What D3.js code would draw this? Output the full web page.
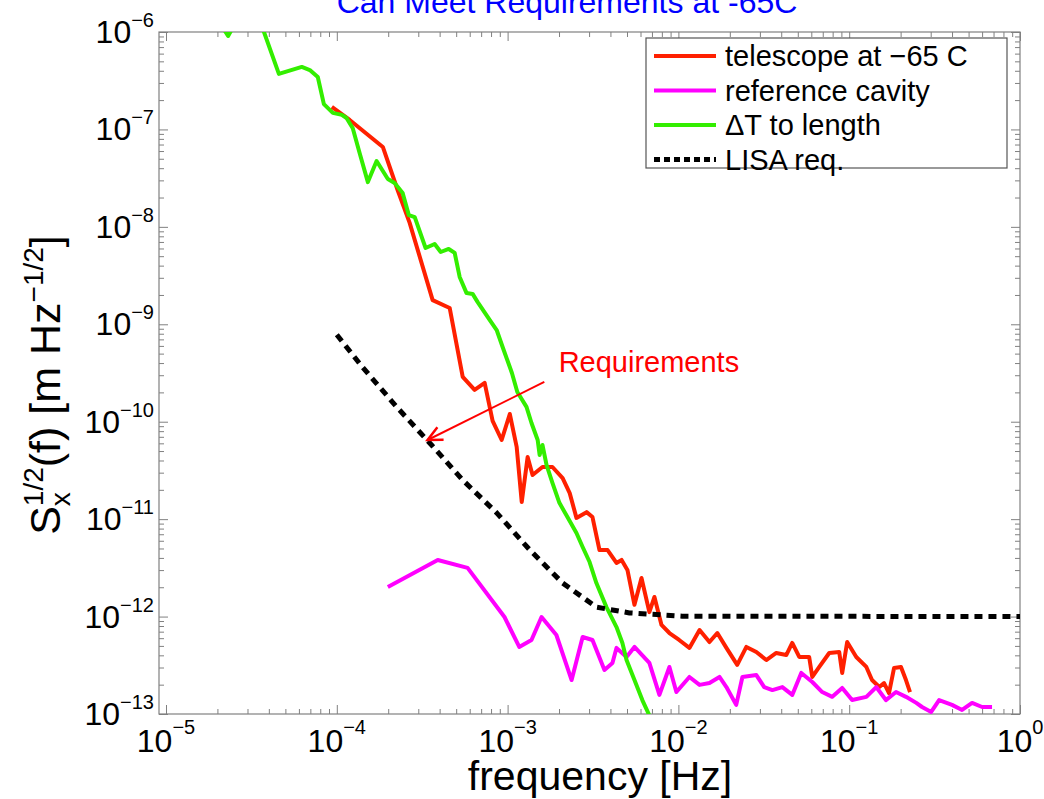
<!DOCTYPE html>
<html lang="en">
<head>
<meta charset="utf-8">
<script src="https://d3js.org/d3.v7.min.js"></script>
<title>Can Meet Requirements at -65C</title>
<style>
body { margin: 0; background: #ffffff; font-family: "Liberation Sans", Arial, sans-serif; }
.tick-lbl { font-size: 32px; fill: #000; }
</style>
</head>
<body>
<script>
// telescope at -65 C (red)
var telescopeF = [9.35e-5, 1.19e-4, 1.86e-4, 2.27e-4, 2.67e-4, 3.64e-4, 4.58e-4, 5.46e-4, 6.41e-4, 7.34e-4,
  8.17e-4, 9.23e-4, 1.03e-3, 1.13e-3, 1.21e-3, 1.31e-3, 1.40e-3, 1.60e-3, 1.83e-3, 2.10e-3,
  2.31e-3, 2.53e-3, 2.90e-3, 3.14e-3, 3.45e-3, 3.85e-3, 4.34e-3, 4.65e-3, 5.03e-3, 5.53e-3,
  6.08e-3, 6.76e-3, 7.24e-3, 7.96e-3, 8.86e-3, 1.01e-2, 1.16e-2, 1.33e-2, 1.52e-2, 1.69e-2,
  1.91e-2, 2.21e-2, 2.50e-2, 2.86e-2, 3.27e-2, 3.74e-2, 4.28e-2, 4.64e-2, 5.10e-2, 5.83e-2,
  6.08e-2, 6.68e-2, 7.64e-2, 8.74e-2, 9.10e-2, 9.73e-2, 0.110, 0.126, 0.136, 0.150,
  0.160, 0.171, 0.183, 0.201, 0.215, 0.227];
var telescopeS = [1.70e-7, 1.25e-7, 6.61e-8, 2.39e-8, 1.10e-8, 1.77e-9, 1.47e-9, 2.88e-10, 2.12e-10, 2.50e-10,
  1.02e-10, 6.49e-11, 1.20e-10, 5.51e-11, 1.50e-11, 4.35e-11, 2.84e-11, 3.43e-11, 3.43e-11, 2.64e-11,
  1.85e-11, 1.03e-11, 1.18e-11, 1.05e-11, 4.82e-12, 4.82e-12, 3.55e-12, 3.81e-12, 3.01e-12, 1.32e-12,
  2.49e-12, 1.11e-12, 1.59e-12, 8.20e-13, 6.78e-13, 5.75e-13, 4.77e-13, 7.28e-13, 5.48e-13, 6.78e-13,
  4.77e-13, 3.19e-13, 4.88e-13, 4.33e-13, 3.58e-13, 4.23e-13, 4.03e-13, 5.36e-13, 3.85e-13, 3.85e-13,
  2.40e-13, 3.04e-13, 4.23e-13, 4.33e-13, 2.64e-13, 5.48e-13, 3.85e-13, 3.04e-13, 2.23e-13, 1.89e-13,
  2.08e-13, 1.64e-13, 2.96e-13, 3.04e-13, 2.23e-13, 1.68e-13];

// reference cavity (magenta)
var cavityF = [1.99e-4, 3.90e-4, 5.83e-4, 9.59e-4, 1.17e-3, 1.38e-3, 1.58e-3, 1.93e-3, 2.37e-3, 2.75e-3,
  3.14e-3, 3.69e-3, 4.11e-3, 4.34e-3, 4.97e-3, 5.53e-3, 6.76e-3, 7.74e-3, 8.86e-3, 9.73e-3,
  1.16e-2, 1.33e-2, 1.52e-2, 1.74e-2, 1.91e-2, 2.18e-2, 2.37e-2, 2.86e-2, 3.18e-2, 3.55e-2,
  4.06e-2, 4.64e-2, 5.24e-2, 6.08e-2, 6.95e-2, 7.96e-2, 9.10e-2, 0.104, 0.126, 0.144,
  0.164, 0.188, 0.215, 0.247, 0.267, 0.302, 0.336, 0.400, 0.458, 0.524, 0.600, 0.686];
var cavityS = [2.01e-12, 3.81e-12, 3.16e-12, 9.9e-13, 4.88e-13, 5.75e-13, 9.9e-13, 6.47e-13, 2.23e-13, 6.17e-13,
  5.75e-13, 2.83e-13, 3.34e-13, 4.77e-13, 3.85e-13, 4.88e-13, 3.34e-13, 1.57e-13, 3.04e-13, 1.68e-13,
  2.40e-13, 1.99e-13, 2.08e-13, 2.40e-13, 1.89e-13, 1.24e-13, 2.40e-13, 2.51e-13, 1.89e-13, 1.76e-13,
  1.89e-13, 1.57e-13, 2.64e-13, 2.13e-13, 1.68e-13, 1.50e-13, 1.85e-13, 1.39e-13, 1.50e-13, 1.89e-13,
  1.39e-13, 1.68e-13, 1.50e-13, 1.30e-13, 1.18e-13, 1.05e-13, 1.39e-13, 1.24e-13, 1.10e-13, 1.30e-13, 1.18e-13, 1.18e-13];

// delta T to length (green)
var deltaTF = [1.93e-5, 2.31e-5, 2.71e-5, 3.45e-5, 4.58e-5, 6.24e-5, 6.95e-5, 7.74e-5, 8.4e-5, 9.48e-5,
  1.07e-4, 1.14e-4, 1.24e-4, 1.36e-4, 1.52e-4, 1.71e-4, 1.99e-4, 2.18e-4, 2.43e-4, 2.64e-4,
  2.86e-4, 3.31e-4, 3.74e-4, 4.06e-4, 4.52e-4, 4.90e-4, 5.24e-4, 5.75e-4, 6.24e-4, 6.68e-4,
  7.85e-4, 8.63e-4, 9.35e-4, 1.06e-3, 1.14e-3, 1.29e-3, 1.38e-3, 1.50e-3, 1.54e-3, 1.60e-3,
  1.69e-3, 1.83e-3, 2.01e-3, 2.24e-3, 2.53e-3, 2.75e-3, 3.02e-3, 3.31e-3, 3.79e-3, 4.34e-3,
  4.70e-3, 4.97e-3, 5.53e-3, 6.15e-3, 6.95e-3];
var deltaTS = [1.50e-6, 9.1e-7, 1.50e-6, 1.50e-6, 3.71e-7, 4.38e-7, 4.07e-7, 3.45e-7, 1.82e-7, 1.48e-7,
  1.41e-7, 1.31e-7, 1.03e-7, 5.73e-8, 2.88e-8, 4.74e-8, 3.10e-8, 2.82e-8, 2.23e-8, 1.32e-8,
  1.26e-8, 6.07e-9, 6.67e-9, 5.52e-9, 5.93e-9, 5.40e-9, 3.06e-9, 2.09e-9, 2.05e-9, 1.69e-9,
  1.11e-9, 8.73e-10, 5.85e-10, 3.16e-10, 2.02e-10, 1.42e-10, 9.7e-11, 6.49e-11, 4.55e-11, 5.77e-11,
  3.60e-11, 2.35e-11, 1.47e-11, 1.05e-11, 7.21e-12, 5.18e-12, 3.63e-12, 2.21e-12, 1.25e-12, 7.81e-13,
  5.36e-13, 3.58e-13, 2.23e-13, 1.39e-13, 8.7e-14];

// LISA requirement (black dotted)
var lisaF = [1.0e-4, 1.42e-4, 2.24e-4, 3.50e-4, 5.46e-4, 8.63e-4, 1.35e-3, 2.10e-3, 3.31e-3, 5.17e-3, 1.05e-2, 1.0];
var lisaS = [7.8e-10, 3.6e-10, 1.42e-10, 6.05e-11, 2.52e-11, 1.16e-11, 4.82e-12, 2.21e-12, 1.25e-12, 1.09e-12, 1.01e-12, 1.0e-12];

var xTickExp = [-5, -4, -3, -2, -1, 0];
var yTickExp = [-13, -12, -11, -10, -9, -8, -7, -6];

var legendLabels = ["telescope at \u221265 C", "reference cavity", "\u0394T to length", "LISA req."];
var annotation = { text: "Requirements", textF: 1.99e-3, textS: 3.24e-10,
  fromF: 1.64e-3, fromS: 2.56e-10, toF: 3.40e-4, toS: 6.49e-11 };

var width = 1044, height = 799;
var plotLeft = 159, plotRight = 1020, plotTop = 32, plotBottom = 714;
var axisGray = "#808080";

var svg = d3.select("body").append("svg")
  .attr("width", width)
  .attr("height", height);

var x = d3.scaleLog().domain([Math.pow(10, -5.041), 1]).range([plotLeft, plotRight]);
var y = d3.scaleLog().domain([1e-13, 1e-6]).range([plotBottom, plotTop]);

// title (partly cut off at the top)
svg.append("text")
  .attr("x", 567).attr("y", 13)
  .attr("text-anchor", "middle")
  .style("font-size", "32px")
  .style("fill", "#0000ff")
  .text("Can Meet Requirements at -65C");

svg.append("defs").append("clipPath").attr("id", "plotclip")
  .append("rect")
  .attr("x", plotLeft).attr("y", plotTop)
  .attr("width", plotRight - plotLeft).attr("height", plotBottom - plotTop);

// ticks, inside on all four sides
var xAll = x.ticks();
var yAll = y.ticks();
function isMajor(v) { return Math.abs(Math.log10(v) - Math.round(Math.log10(v))) < 1e-6; }
var xMinor = xAll.filter(function(v) { return !isMajor(v); });
var xMajor = xAll.filter(isMajor);
var yMinor = yAll.filter(function(v) { return !isMajor(v); });
var yMajor = yAll.filter(isMajor);

function drawAxis(axisFn, scale, vals, size, transform) {
  var g = svg.append("g")
    .attr("transform", transform)
    .call(axisFn(scale).tickValues(vals).tickSizeInner(-size).tickSizeOuter(0).tickFormat(""));
  g.select(".domain").remove();
  g.selectAll("line").attr("stroke", axisGray);
}
drawAxis(d3.axisBottom, x, xMinor, 5, "translate(0," + plotBottom + ")");
drawAxis(d3.axisBottom, x, xMajor, 9, "translate(0," + plotBottom + ")");
drawAxis(d3.axisTop, x, xMinor, 5, "translate(0," + plotTop + ")");
drawAxis(d3.axisTop, x, xMajor, 9, "translate(0," + plotTop + ")");
drawAxis(d3.axisLeft, y, yMinor, 5, "translate(" + plotLeft + ",0)");
drawAxis(d3.axisLeft, y, yMajor, 9, "translate(" + plotLeft + ",0)");
drawAxis(d3.axisRight, y, yMinor, 5, "translate(" + plotRight + ",0)");
drawAxis(d3.axisRight, y, yMajor, 9, "translate(" + plotRight + ",0)");

svg.append("rect")
  .attr("x", plotLeft).attr("y", plotTop)
  .attr("width", plotRight - plotLeft).attr("height", plotBottom - plotTop)
  .attr("fill", "none")
  .attr("stroke", axisGray)
  .attr("stroke-width", 1.2);

// tick labels as 10^n
xTickExp.forEach(function(e) {
  var t = svg.append("text")
    .attr("class", "tick-lbl")
    .attr("x", x(Math.pow(10, e)))
    .attr("y", plotBottom + 38)
    .attr("text-anchor", "middle");
  t.append("tspan").text("10");
  t.append("tspan").attr("dy", -18).style("font-size", "20px").text(String(e).replace("-", "\u2212"));
});
yTickExp.forEach(function(e) {
  var t = svg.append("text")
    .attr("class", "tick-lbl")
    .attr("x", 154)
    .attr("y", y(Math.pow(10, e)) + 11)
    .attr("text-anchor", "end");
  t.append("tspan").text("10");
  t.append("tspan").attr("dy", -16).style("font-size", "20px").text(String(e).replace("-", "\u2212"));
});

// axis labels
svg.append("text")
  .attr("x", 600).attr("y", 790)
  .attr("text-anchor", "middle")
  .style("font-size", "41px")
  .text("frequency [Hz]");

function measure(str, size) {
  var t = svg.append("text").style("font-size", size + "px").text(str);
  var w = t.node().getComputedTextLength();
  t.remove();
  return w;
}
var big = 43, small = 28;
var wHalf = measure("1/2", small), wX = measure("x", small);
var yl = svg.append("text")
  .attr("transform", "translate(60,385) rotate(-90)")
  .attr("text-anchor", "middle")
  .style("font-size", big + "px");
yl.append("tspan").text("S");
yl.append("tspan").attr("dy", -17).style("font-size", small + "px").text("1/2");
yl.append("tspan").attr("dx", -wHalf).attr("dy", 27).style("font-size", small + "px").text("x");
yl.append("tspan").attr("dx", wHalf - wX).attr("dy", -10).text("(f) [m Hz");
yl.append("tspan").attr("dy", -17).style("font-size", small + "px").text("\u22121/2");
yl.append("tspan").attr("dy", 17).text("]");

// series
var line = d3.line()
  .x(function(d) { return x(d[0]); })
  .y(function(d) { return y(d[1]); });

var plot = svg.append("g").attr("clip-path", "url(#plotclip)");
var series = [
  { f: telescopeF, s: telescopeS, color: "#ff2000", w: 4, dash: null },
  { f: cavityF, s: cavityS, color: "#ff00ff", w: 4, dash: null },
  { f: deltaTF, s: deltaTS, color: "#33ee00", w: 4, dash: null },
  { f: lisaF, s: lisaS, color: "#000000", w: 5, dash: "8,6" }
];
series.forEach(function(sr) {
  plot.append("path")
    .datum(d3.zip(sr.f, sr.s))
    .attr("d", line)
    .attr("fill", "none")
    .attr("stroke", sr.color)
    .attr("stroke-width", sr.w)
    .attr("stroke-linejoin", "round")
    .attr("stroke-dasharray", sr.dash);
});

// annotation arrow
var ax1 = x(annotation.fromF), ay1 = y(annotation.fromS);
var ax2 = x(annotation.toF), ay2 = y(annotation.toS);
svg.append("line")
  .attr("x1", ax1).attr("y1", ay1).attr("x2", ax2).attr("y2", ay2)
  .attr("stroke", "#ff0000").attr("stroke-width", 2);
var ang = Math.atan2(ay1 - ay2, ax1 - ax2), hl = 16, spread = 0.45;
svg.append("path")
  .attr("d", "M" + (ax2 + hl * Math.cos(ang - spread)) + "," + (ay2 + hl * Math.sin(ang - spread)) +
    "L" + ax2 + "," + ay2 +
    "L" + (ax2 + hl * Math.cos(ang + spread)) + "," + (ay2 + hl * Math.sin(ang + spread)))
  .attr("fill", "none").attr("stroke", "#ff0000").attr("stroke-width", 2.5);
svg.append("text")
  .attr("x", x(annotation.textF)).attr("y", y(annotation.textS))
  .style("font-size", "29px").style("fill", "#ff0000")
  .text(annotation.text);

// legend
var lg = svg.append("g");
lg.append("rect")
  .attr("x", 646).attr("y", 38).attr("width", 361).attr("height", 130)
  .attr("fill", "#fff").attr("stroke", "#555").attr("stroke-width", 1.2);
legendLabels.forEach(function(lbl, i) {
  var sr = series[i];
  var ly = 56 + i * 34.5;
  lg.append("line")
    .attr("x1", 654).attr("x2", 716).attr("y1", ly).attr("y2", ly)
    .attr("stroke", sr.color).attr("stroke-width", sr.dash ? 5 : 4)
    .attr("stroke-dasharray", sr.dash ? "6,4" : null);
  lg.append("text")
    .attr("x", 725).attr("y", ly + 10)
    .style("font-size", "29px")
    .text(lbl);
});
</script>
</body>
</html>
